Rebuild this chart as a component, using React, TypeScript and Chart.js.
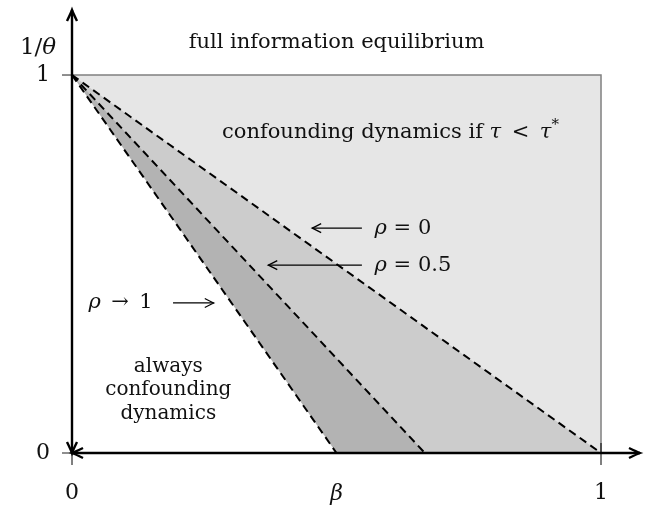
import React, { useEffect, useRef } from "react";
import { Chart, registerables } from "chart.js";

Chart.register(...registerables);

// ---- data ----
const axisTicks = [0, 1];
const tickLabels = ["0", "1"];
// boundary lines start at (beta=0, 1/theta=1) and hit 1/theta=0 at these beta values
const rhoNames = ["ρ = 0", "ρ = 0.5", "ρ\u2002→\u20021"];
const boundaryStartBeta = [0, 0, 0];
const boundaryStartInvTheta = [1, 1, 1];
const boundaryEndBeta = [1, 0.667, 0.5];
const boundaryEndInvTheta = [0, 0, 0];
const regionFills = ["#cccccc", "#b3b3b3", "#ffffff"];
const rectBeta = [0, 1, 1];
const rectInvTheta = [1, 1, 0];

const FONT = '"DejaVu Serif", serif';
const FS = 21;

type Run = { t: string; it?: boolean; sup?: boolean };

function drawRuns(ctx: CanvasRenderingContext2D, runs: Run[], x: number, y: number, align: "left" | "center", fs = FS) {
  const fontOf = (r: Run) => `${r.it ? "italic " : ""}${r.sup ? Math.round(fs * 0.7) : fs}px ${FONT}`;
  let total = 0;
  for (const r of runs) {
    ctx.font = fontOf(r);
    total += ctx.measureText(r.t).width;
  }
  let cx = align === "center" ? x - total / 2 : x;
  ctx.textBaseline = "middle";
  ctx.textAlign = "left";
  ctx.fillStyle = "#111";
  for (const r of runs) {
    ctx.font = fontOf(r);
    ctx.fillText(r.t, cx, r.sup ? y - 8 : y);
    cx += ctx.measureText(r.t).width;
  }
}

function arrowHead(ctx: CanvasRenderingContext2D, x: number, y: number, ang: number, len = 10, half = 5) {
  const c = Math.cos(ang), s = Math.sin(ang);
  const bx = x - c * len, by = y - s * len;
  const px = -s, py = c;
  ctx.beginPath();
  ctx.moveTo(bx + px * half, by + py * half);
  ctx.quadraticCurveTo(x - c * len * 0.3 + px * half * 0.25, y - s * len * 0.3 + py * half * 0.25, x, y);
  ctx.quadraticCurveTo(x - c * len * 0.3 - px * half * 0.25, y - s * len * 0.3 - py * half * 0.25, bx - px * half, by - py * half);
  ctx.stroke();
}

function arrow(ctx: CanvasRenderingContext2D, x1: number, y1: number, x2: number, y2: number, w: number, len = 10, half = 5) {
  ctx.lineWidth = w;
  ctx.beginPath();
  ctx.moveTo(x1, y1);
  ctx.lineTo(x2, y2);
  ctx.stroke();
  arrowHead(ctx, x2, y2, Math.atan2(y2 - y1, x2 - x1), len, half);
}

const annotations = {
  plugin: {
    id: "annot",
    afterDraw(chart: any) {
      const ctx: CanvasRenderingContext2D = chart.ctx;
      const xs = chart.scales.x, ys = chart.scales.y;
      const X = (v: number) => xs.getPixelForValue(v);
      const Y = (v: number) => ys.getPixelForValue(v);
      const ca = chart.chartArea;
      ctx.save();
      ctx.lineCap = "butt";
      // y tick marks
      ctx.strokeStyle = "#444";
      ctx.lineWidth = 1.2;
      for (const t of axisTicks) {
        ctx.beginPath();
        ctx.moveTo(X(0) - 10, Y(t));
        ctx.lineTo(X(0), Y(t));
        ctx.stroke();
      }
      // x tick marks
      ctx.strokeStyle = "#000";
      ctx.lineWidth = 1;
      for (const t of axisTicks) {
        ctx.beginPath();
        ctx.moveTo(X(t), Y(0) - 10);
        ctx.lineTo(X(t), Y(0) + 12);
        ctx.stroke();
      }
      // axes with arrows at both ends
      ctx.strokeStyle = "#000";
      arrow(ctx, X(0), Y(0), X(0), ca.top, 2.4, 11, 5);
      arrowHead(ctx, X(0), Y(0), Math.PI / 2, 11, 5);
      arrow(ctx, X(0), Y(0), ca.right, Y(0), 2.4, 11, 5);
      arrowHead(ctx, X(0), Y(0), Math.PI, 11, 5);

      // tick labels
      axisTicks.forEach((t, i) => {
        drawRuns(ctx, [{ t: tickLabels[i] }], X(t), Y(0) + 40, "center", 22);
        drawRuns(ctx, [{ t: tickLabels[i] }], X(0) - 29, Y(t), "center", 22);
      });
      drawRuns(ctx, [{ t: "β", it: true }], X(0.5), Y(0) + 41, "center", 22);
      drawRuns(ctx, [{ t: "1/" }, { t: "θ", it: true }], X(0) - 34, Y(1.071), "center", 23);

      drawRuns(ctx, [{ t: "full information equilibrium" }], X(0.5), Y(1.087), "center");
      drawRuns(
        ctx,
        [{ t: "confounding dynamics if " }, { t: "τ", it: true }, { t: "\u2002<\u2002" }, { t: "τ", it: true }, { t: "*", sup: true }],
        X(0.602),
        Y(0.847),
        "center"
      );

      // rho labels and arrows
      ctx.strokeStyle = "#000";
      arrow(ctx, X(0.548), Y(0.595), X(0.454), Y(0.595), 1.2, 9, 4.5);
      drawRuns(ctx, [{ t: "ρ", it: true }, { t: rhoNames[0].slice(1) }], X(0.572), Y(0.595), "left");
      arrow(ctx, X(0.548), Y(0.497), X(0.371), Y(0.497), 1.2, 9, 4.5);
      drawRuns(ctx, [{ t: "ρ", it: true }, { t: rhoNames[1].slice(1) }], X(0.572), Y(0.497), "left");
      arrow(ctx, X(0.191), Y(0.397), X(0.268), Y(0.397), 1.2, 9, 4.5);
      drawRuns(ctx, [{ t: "ρ", it: true }, { t: rhoNames[2].slice(1) }], X(0.031), Y(0.397), "left");

      drawRuns(ctx, [{ t: "always" }], X(0.182), Y(0.228), "center", 20);
      drawRuns(ctx, [{ t: "confounding" }], X(0.182), Y(0.167), "center", 20);
      drawRuns(ctx, [{ t: "dynamics" }], X(0.182), Y(0.103), "center", 20);
      ctx.restore();
    },
  },
};

export default function App() {
  const ref = useRef<HTMLCanvasElement | null>(null);
  useEffect(() => {
    if (!ref.current) return;
    const rect = {
      data: rectBeta.map((b, i) => ({ x: b, y: rectInvTheta[i] })),
      borderColor: "#808080",
      borderWidth: 1.5,
      backgroundColor: "#e6e6e6",
      fill: "origin",
      pointRadius: 0,
      tension: 0,
      order: 10,
    };
    const bounds = rhoNames.map((name, i) => ({
      label: name,
      data: [
        { x: boundaryStartBeta[i], y: boundaryStartInvTheta[i] },
        { x: boundaryEndBeta[i], y: boundaryEndInvTheta[i] },
      ],
      borderColor: "#000",
      borderWidth: 2,
      borderDash: [8, 5],
      backgroundColor: regionFills[i],
      fill: "origin",
      pointRadius: 0,
      tension: 0,
      order: 3 - i,
    }));
    const chart = new Chart(ref.current, {
      type: "scatter",
      data: { datasets: [rect as any, ...(bounds as any[])] },
      options: {
        animation: false,
        responsive: false,
        showLine: true,
        layout: { padding: { left: 72, right: 5, top: 10, bottom: 55 } },
        scales: {
          x: { type: "linear", min: 0, max: 1.0737, display: false },
          y: { type: "linear", min: 0, max: 1.172, display: false },
        },
        plugins: { legend: { display: false }, tooltip: { enabled: false } },
      } as any,
      plugins: [annotations.plugin as any],
    });
    return () => chart.destroy();
  }, []);
  return (
    <div style={{ position: "fixed", left: 0, top: 0, width: 645, height: 508, background: "#fff" }}>
      <canvas ref={ref} width={645} height={508} style={{ width: 645, height: 508 }} />
    </div>
  );
}
